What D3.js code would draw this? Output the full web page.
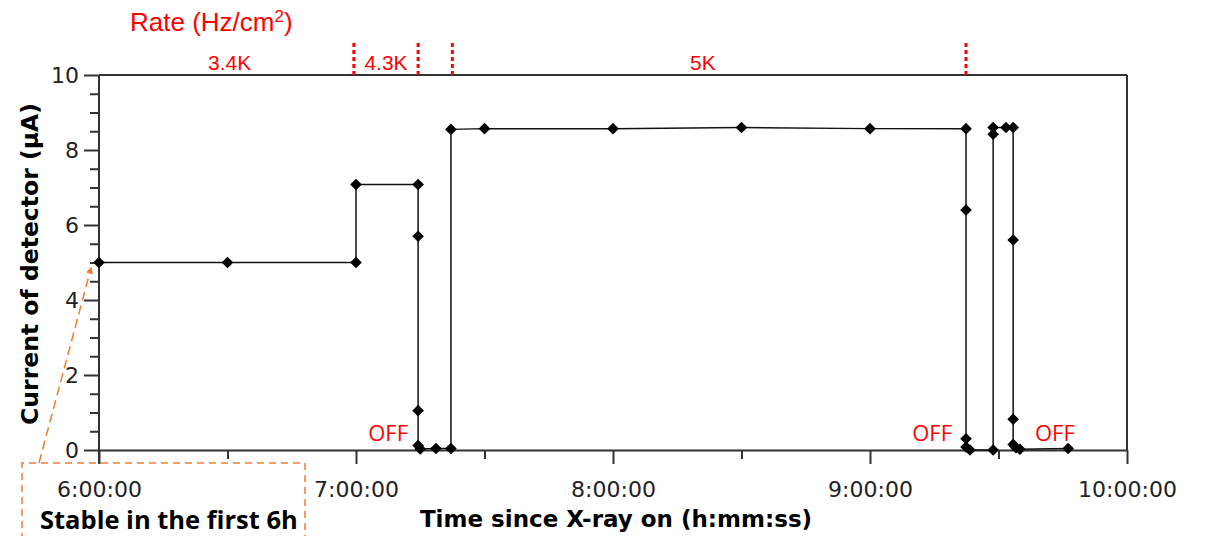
<!DOCTYPE html>
<html>
<head>
  <meta charset="UTF-8">
  <script src="https://d3js.org/d3.v7.min.js"></script>
  <title>Current of detector</title>
  <style type="text/css">
    html, body { margin:0; padding:0; background:#fff; }
    svg { display:block; }
  </style>
</head>
<body>
<div id="chart"></div>
<script>
// measured points: time since X-ray on, current (uA)
var times = ["6:00:00","6:30:00","7:00:00","7:00:00","7:14:30","7:14:30","7:14:30","7:14:30","7:15:00",
             "7:18:40","7:22:10","7:22:10","7:30:00","8:00:00","8:30:00","9:00:00","9:22:25","9:22:25",
             "9:22:25","9:22:25","9:23:20","9:28:45","9:28:45","9:28:45","9:31:45","9:33:25","9:33:25",
             "9:33:25","9:33:25","9:34:05","9:35:00","9:46:15"];
var current = [5.0,5.0,5.0,7.08,7.08,5.7,1.05,0.12,0.03,
               0.04,0.04,8.55,8.57,8.57,8.6,8.57,8.57,6.4,
               0.3,0.08,0.0,0.0,8.42,8.6,8.6,8.6,5.6,
               0.82,0.15,0.06,0.02,0.04];
var xTicks = ["6:00:00","6:30:00","7:00:00","7:30:00","8:00:00","8:30:00","9:00:00","9:30:00","10:00:00"];
var yTicks = [0,2,4,6,8,10];
var rateBounds = ["6:59:30","7:14:30","7:22:30","9:22:25"];
var rateLabels = ["3.4K","4.3K","5K"];
var rateLabelTimes = ["6:30:30","7:07:00","8:21:00"];
var offTimes = ["7:07:30","9:14:30","9:43:10"];

function secs(s) {
  var p = s.split(":").map(Number);
  return p[0]*3600 + p[1]*60 + p[2];
}

var svgWidth = 1208, svgHeight = 536;
var margin = {top: 75, left: 99},
    width = 1028, height = 375;

var svg = d3.select("#chart").append("svg")
  .attr("width", svgWidth).attr("height", svgHeight);

var g = svg.append("g")
  .attr("transform", "translate(" + margin.left + "," + margin.top + ")");

var xScale = d3.scaleLinear()
  .domain([secs("6:00:00"), secs("10:00:00")])
  .range([0, width]);
var yScale = d3.scaleLinear()
  .domain([0, 10])
  .range([height, 0]);

var axisColor = "#333";
var tickFont = "DejaVu Sans, sans-serif";

// frame top and right
g.append("line").attr("x1", 0).attr("x2", width).attr("y1", 0).attr("y2", 0)
  .attr("stroke", axisColor).attr("stroke-width", 2);
g.append("line").attr("x1", width).attr("x2", width).attr("y1", 0).attr("y2", height)
  .attr("stroke", axisColor).attr("stroke-width", 2);

// x axis: hour ticks long + labelled, half hours short
var xAxis = g.append("g")
  .attr("class", "axis axis-x")
  .attr("transform", "translate(0," + height + ")")
  .call(d3.axisBottom(xScale)
    .tickValues(xTicks.map(secs))
    .tickSize(0)
    .tickFormat(""));
xAxis.select(".domain").attr("stroke", axisColor).attr("stroke-width", 2);
xAxis.selectAll(".tick line")
  .attr("stroke", axisColor).attr("stroke-width", 2)
  .attr("y2", function(d) { return d % 3600 === 0 ? 14 : 9; });
xAxis.selectAll(".tick text")
  .text(function(d) { return d % 3600 === 0 ? xTicks[xTicks.map(secs).indexOf(d)] : ""; })
  .attr("y", 31)
  .attr("fill", "#222")
  .style("font-family", tickFont).style("font-size", "22px");

// y axis with half-unit minor ticks
var minor = d3.range(0, 10.01, 0.5);
var yAxis = g.append("g")
  .attr("class", "axis axis-y")
  .call(d3.axisLeft(yScale).tickValues(minor).tickSize(0).tickFormat(""));
yAxis.select(".domain").remove();
g.append("line").attr("x1", 0).attr("x2", 0).attr("y1", 0).attr("y2", height + 14)
  .attr("stroke", axisColor).attr("stroke-width", 2);
yAxis.selectAll(".tick line")
  .attr("stroke", axisColor).attr("stroke-width", 2)
  .attr("x2", function(d) { return yTicks.indexOf(d) >= 0 ? -15 : -9; });
yAxis.selectAll(".tick text")
  .text(function(d) { return yTicks.indexOf(d) >= 0 ? d : ""; })
  .attr("x", -20)
  .attr("fill", "#222")
  .style("font-family", tickFont).style("font-size", "22px");

// axis titles
svg.append("text")
  .attr("x", 616).attr("y", 527)
  .attr("text-anchor", "middle")
  .style("font-family", tickFont).style("font-size", "23px").style("font-weight", "bold")
  .text("Time since X-ray on (h:mm:ss)");
svg.append("text")
  .attr("transform", "translate(38,264) rotate(-90)")
  .attr("text-anchor", "middle")
  .style("font-family", tickFont).style("font-size", "23.5px").style("font-weight", "bold")
  .text("Current of detector (\u03bcA)");

// data line and markers
var pts = times.map(function(t, i) { return {t: secs(t), v: current[i]}; });
var line = d3.line()
  .x(function(d) { return xScale(d.t); })
  .y(function(d) { return yScale(d.v); });
g.append("path").datum(pts)
  .attr("d", line)
  .attr("fill", "none").attr("stroke", "#111").attr("stroke-width", 1.5);
g.selectAll(".pt").data(pts).enter().append("path")
  .attr("class", "pt")
  .attr("d", d3.symbol().type(d3.symbolSquare).size(68))
  .attr("transform", function(d) { return "translate(" + xScale(d.t) + "," + yScale(d.v) + ") rotate(45)"; })
  .attr("fill", "#000");

// rate annotations
var red = "#ff0000";
svg.append("text")
  .attr("x", 130).attr("y", 31)
  .attr("fill", red)
  .style("font-family", "Liberation Sans, Arial, sans-serif").style("font-size", "26px")
  .text("Rate (Hz/cm")
  .append("tspan").attr("dy", -9).style("font-size", "17px").text("2")
  .select(function() { return this.parentNode; })
  .append("tspan").attr("dy", 9).text(")");

svg.selectAll(".rate-bound").data(rateBounds).enter().append("line")
  .attr("class", "rate-bound")
  .attr("x1", function(d) { return margin.left + xScale(secs(d)); })
  .attr("x2", function(d) { return margin.left + xScale(secs(d)); })
  .attr("y1", 43).attr("y2", 75)
  .attr("stroke", red).attr("stroke-width", 3).attr("stroke-dasharray", "4,3");

svg.selectAll(".rate-label").data(rateLabels).enter().append("text")
  .attr("class", "rate-label")
  .attr("x", function(d, i) { return margin.left + xScale(secs(rateLabelTimes[i])); })
  .attr("y", 70)
  .attr("text-anchor", "middle")
  .attr("fill", red)
  .style("font-family", "Liberation Sans, Arial, sans-serif").style("font-size", "21px")
  .text(function(d) { return d; });

svg.selectAll(".off").data(offTimes).enter().append("text")
  .attr("class", "off")
  .attr("x", function(d) { return margin.left + xScale(secs(d)); })
  .attr("y", 441)
  .attr("text-anchor", "middle")
  .attr("fill", red)
  .style("font-family", "Open Sans, sans-serif").style("font-size", "22px")
  .text("OFF");

// "stable in the first 6h" note
var orange = "#ed7d31";
svg.append("defs").append("marker")
  .attr("id", "arrow").attr("viewBox", "0 0 10 10")
  .attr("refX", 8).attr("refY", 5)
  .attr("markerWidth", 7).attr("markerHeight", 7)
  .attr("markerUnits", "userSpaceOnUse")
  .attr("orient", "auto")
  .append("path").attr("d", "M0,0 L10,5 L0,10 z").attr("fill", orange);
svg.append("path")
  .attr("d", "M22,540 L22,463 L305,463 L305,540")
  .attr("fill", "none").attr("stroke", orange).attr("stroke-width", 1.5)
  .attr("stroke-dasharray", "7,5");
svg.append("line")
  .attr("x1", 39).attr("y1", 463).attr("x2", 91).attr("y2", 268)
  .attr("stroke", orange).attr("stroke-width", 1.5)
  .attr("stroke-dasharray", "9,5")
  .attr("marker-end", "url(#arrow)");
svg.append("text")
  .attr("x", 40).attr("y", 529)
  .style("font-family", "Open Sans, sans-serif").style("font-size", "25.5px").style("font-weight", "bold")
  .text("Stable in the first 6h");
</script>
</body>
</html>
